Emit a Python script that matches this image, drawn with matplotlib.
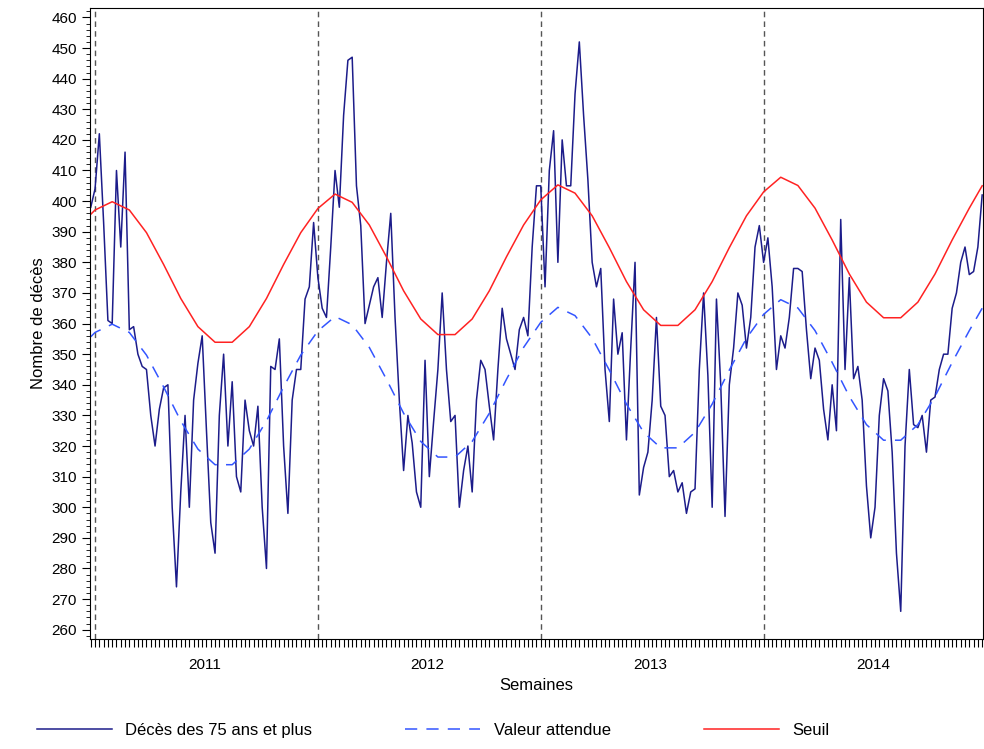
import matplotlib
matplotlib.use('Agg')
from matplotlib import pyplot as plt
import numpy as np

plt.rcParams['font.family'] = ['Liberation Sans', 'DejaVu Sans']

# weekly deaths, 75+ (first value is the week before season 1)
first_week = [398]
season1 = [404, 422, 393, 361, 360, 410, 385, 416, 358, 359, 350, 346, 345, 330, 320, 332, 339, 340,
           300, 274, 305, 330, 300, 335, 347, 356, 325, 295, 285, 330, 350, 320, 341, 310, 305, 335,
           325, 320, 333, 300, 280, 346, 345, 355, 320, 298, 335, 345, 345, 368, 372, 393]
season2 = [375, 365, 362, 385, 410, 398, 428, 446, 447, 405, 392, 360, 366, 372, 375, 362, 380, 396,
           362, 335, 312, 330, 321, 305, 300, 348, 310, 328, 345, 370, 345, 328, 330, 300, 312, 320,
           305, 335, 348, 345, 333, 322, 345, 365, 355, 350, 345, 358, 362, 356, 385, 405]
season3 = [405, 372, 410, 423, 380, 420, 405, 405, 435, 452, 428, 407, 380, 372, 378, 345, 328, 368,
           350, 357, 322, 352, 380, 304, 313, 318, 335, 362, 333, 330, 310, 312, 305, 308, 298, 305,
           306, 345, 370, 343, 300, 368, 340, 297, 340, 352, 370, 366, 352, 362, 385, 392]
season4 = [380, 388, 372, 345, 356, 352, 362, 378, 378, 377, 358, 342, 352, 348, 332, 322, 340, 325,
           394, 345, 375, 342, 346, 335, 307, 290, 300, 330, 342, 338, 318, 285, 266, 320, 345, 327,
           326, 330, 318, 335, 336, 345, 350, 350, 365, 370, 380, 385, 376, 377, 385, 402]
deaths = first_week + season1 + season2 + season3 + season4
weeks = np.arange(-1, len(deaths) - 1)

# expected value (read every 4 weeks); threshold sits a constant 40 above it
exp_weeks = [-1, 0, 4, 8, 12, 16, 20, 24, 28, 32, 36, 40, 44, 48,
             52, 56, 60, 64, 68, 72, 76, 80, 84, 88, 92, 96, 100,
             104, 108, 112, 116, 120, 124, 128, 132, 136, 140, 144, 148, 152,
             156, 160, 164, 168, 172, 176, 180, 184, 188, 192, 196, 200, 204, 207]
expected = [355.7, 357.1, 359.8, 357.1, 349.7, 339.3, 328.2, 319.0, 313.9, 313.9, 319.0, 328.2, 339.3, 349.7,
            357.6, 362.3, 359.6, 352.2, 341.8, 330.7, 321.5, 316.4, 316.4, 321.5, 330.7, 341.8, 352.2,
            360.4, 365.3, 362.6, 355.2, 344.8, 333.7, 324.5, 319.4, 319.4, 324.5, 333.7, 344.8, 355.2,
            363.0, 367.8, 365.1, 357.7, 347.3, 336.2, 327.0, 321.9, 321.9, 327.0, 336.2, 347.3, 357.7, 365.0]
threshold_offset = 40

season_starts = [0, 52, 104, 156]
year_labels = ['2011', '2012', '2013', '2014']

fig = plt.figure(figsize=(9.84, 7.49), dpi=100)
ax = fig.add_axes([0.0915, 0.147, 0.9075, 0.842])

for s in season_starts:
    ax.axvline(s, color='#555555', linestyle=(0, (4, 3)), linewidth=1)

ax.plot(weeks, deaths, color='#1c1c8a', linewidth=1.1, label='Décès des 75 ans et plus')
ax.plot(exp_weeks, expected, color='#3355ff', linewidth=1.1, linestyle=(0, (8, 6)), label='Valeur attendue')
ax.plot(exp_weeks, np.array(expected) + threshold_offset, color='#ff2222', linewidth=1.1, label='Seuil')

ax.set_xlim(-1.17, 207.2)
ax.set_ylim(257, 463)
ax.set_yticks(np.arange(260, 461, 10))
ax.set_yticks(np.arange(258, 463, 2), minor=True)
ax.set_xticks([s + 25.5 for s in season_starts])
ax.set_xticklabels(year_labels)
ax.set_xticks(np.arange(-1, 208, 1), minor=True)
ax.tick_params(axis='x', which='major', length=0, pad=14, labelsize=11)
ax.tick_params(axis='x', which='minor', length=6, width=0.8)
ax.tick_params(axis='y', which='major', length=6, labelsize=11)
ax.tick_params(axis='y', which='minor', length=3)
ax.set_xlabel('Semaines', fontsize=12, labelpad=4)
ax.set_ylabel('Nombre de décès', fontsize=12, labelpad=4)

fig.legend(loc='lower center', bbox_to_anchor=(0.44, -0.005), ncol=3, frameon=False,
           handlelength=4.5, columnspacing=5.6, fontsize=12)

fig.savefig('out.png', dpi=100)
